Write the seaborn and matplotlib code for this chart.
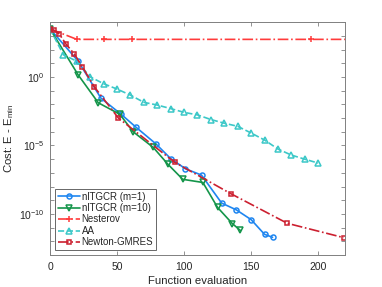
import numpy as np
import pandas as pd
import matplotlib
matplotlib.use("Agg")
import matplotlib.pyplot as plt
import seaborn as sns
from matplotlib.ticker import FixedLocator, FuncFormatter

# ---------------- data ----------------
tgcr1_x = [0, 21, 38, 53, 64, 79, 90, 101, 113, 128, 139, 150, 160, 166]
tgcr1_y = [3.2e3, 1.4e1, 2.8e-2, 1.9e-3, 2.2e-4, 1.3e-5, 1.1e-6, 2.0e-7,
           6.9e-8, 6.3e-10, 2.0e-10, 3.9e-11, 3.3e-12, 2.0e-12]

tgcr10_x = [0, 21, 36, 52, 62, 77, 88, 99, 114, 125, 136, 142]
tgcr10_y = [3.2e3, 1.4e0, 1.3e-2, 1.9e-3, 1.0e-4, 7.2e-6, 4.2e-7, 3.4e-8,
            2.0e-8, 3.0e-10, 2.0e-11, 6.3e-12]

nest_x = [0, 20, 40, 61, 195, 220]
nest_y = [3.2e3, 5.5e2, 5.5e2, 5.5e2, 5.5e2, 5.5e2]

aa_x = [0, 10, 20, 30, 40, 50, 60, 70, 80, 90, 100, 110, 120, 130, 140,
        150, 160, 170, 180, 190, 200]
aa_y = [3.2e3, 4.1e1, 1.4e1, 1.0e0, 3.2e-1, 1.3e-1, 4.7e-2, 1.4e-2, 8.9e-3,
        4.9e-3, 2.6e-3, 1.7e-3, 7.8e-4, 4.2e-4, 2.5e-4, 8.1e-5, 2.5e-5,
        5.5e-6, 2.0e-6, 1.0e-6, 5.2e-7]

ng_x = [0, 3, 7, 12, 18, 24, 33, 51, 93, 135, 177, 219]
ng_y = [3.2e3, 2.5e3, 1.3e3, 2.4e2, 4.9e1, 5.6e0, 1.9e-1, 1.0e-3, 5.9e-7,
        3.0e-9, 2.1e-11, 1.9e-12]

labels = ["nlTGCR (m=1)", "nlTGCR (m=10)", "Nesterov", "AA", "Newton-GMRES"]
xticks = [0, 50, 100, 150, 200]

# ---------------- style ----------------
sns.set_theme(style="ticks")
plt.rcParams["font.family"] = ["Liberation Sans", "DejaVu Sans"]
plt.rcParams["mathtext.fontset"] = "custom"
plt.rcParams["mathtext.rm"] = "Liberation Sans"
plt.rcParams["mathtext.it"] = "Liberation Sans:italic"

fig = plt.figure(figsize=(3.82, 2.87), dpi=100)
ax = fig.add_axes([0.131, 0.111, 0.772, 0.812])

series = [
    (tgcr1_x, tgcr1_y, labels[0], "#1f86f0", "o", "-", None, 3.6),
    (tgcr10_x, tgcr10_y, labels[1], "#14954a", "v", "-", None, 4.0),
    (nest_x, nest_y, labels[2], "#ff3b3b", "+", "-.", [0, 1, 2, 3, 4], 4.5),
    (aa_x, aa_y, labels[3], "#3cc8c8", "^", "--", None, 4.0),
    (ng_x, ng_y, labels[4], "#cc2030", "s", "-.", None, 3.4),
]

for xs, ys, lab, col, mk, ls, me, ms in series:
    df = pd.DataFrame({"x": xs, "y": ys})
    kw = dict(markevery=me) if me is not None else {}
    sns.lineplot(data=df, x="x", y="y", ax=ax, color=col, marker=mk,
                 linestyle=ls, linewidth=1.2, markersize=ms,
                 markerfacecolor="none" if mk != "+" else col,
                 markeredgecolor=col, markeredgewidth=1.1,
                 sort=False, estimator=None, label=lab, **kw)

ax.set_yscale("log")
ax.set_xlim(0, 220)
ax.set_ylim(1e-13, 1e4)

decades = [10.0 ** k for k in range(-13, 5)]
ax.yaxis.set_major_locator(FixedLocator(decades))
ax.yaxis.set_minor_locator(FixedLocator([]))


def yfmt(v, pos):
    k = int(round(np.log10(v)))
    if k in (0, -5, -10):
        return r"$10^{%d}$" % k
    return ""


ax.yaxis.set_major_formatter(FuncFormatter(yfmt))
ax.set_xticks(xticks)

axis_col = "#262626"
for sp in ax.spines.values():
    sp.set_visible(True)
    sp.set_color("#808080")
    sp.set_linewidth(0.7)
ax.tick_params(axis="both", which="both", direction="in", top=True,
               right=True, length=3, width=0.6, color="#808080",
               labelsize=7.5, labelcolor=axis_col)
ax.tick_params(axis="x", pad=5)
ax.tick_params(axis="y", pad=4)

ax.set_xlabel("Function evaluation", fontsize=8.2, color=axis_col, labelpad=3)
ax.set_ylabel(r"Cost: E - E$_{\rm min}$", fontsize=8.2, color=axis_col,
              labelpad=2)

leg = ax.legend(loc="lower left", fontsize=7, frameon=True, fancybox=False,
                handlelength=2.3, handletextpad=0.15, labelspacing=0.15,
                borderpad=0.3, borderaxespad=0.5)
leg.get_frame().set_edgecolor("#404040")
leg.get_frame().set_linewidth(0.7)

fig.savefig("out.png", dpi=100)
